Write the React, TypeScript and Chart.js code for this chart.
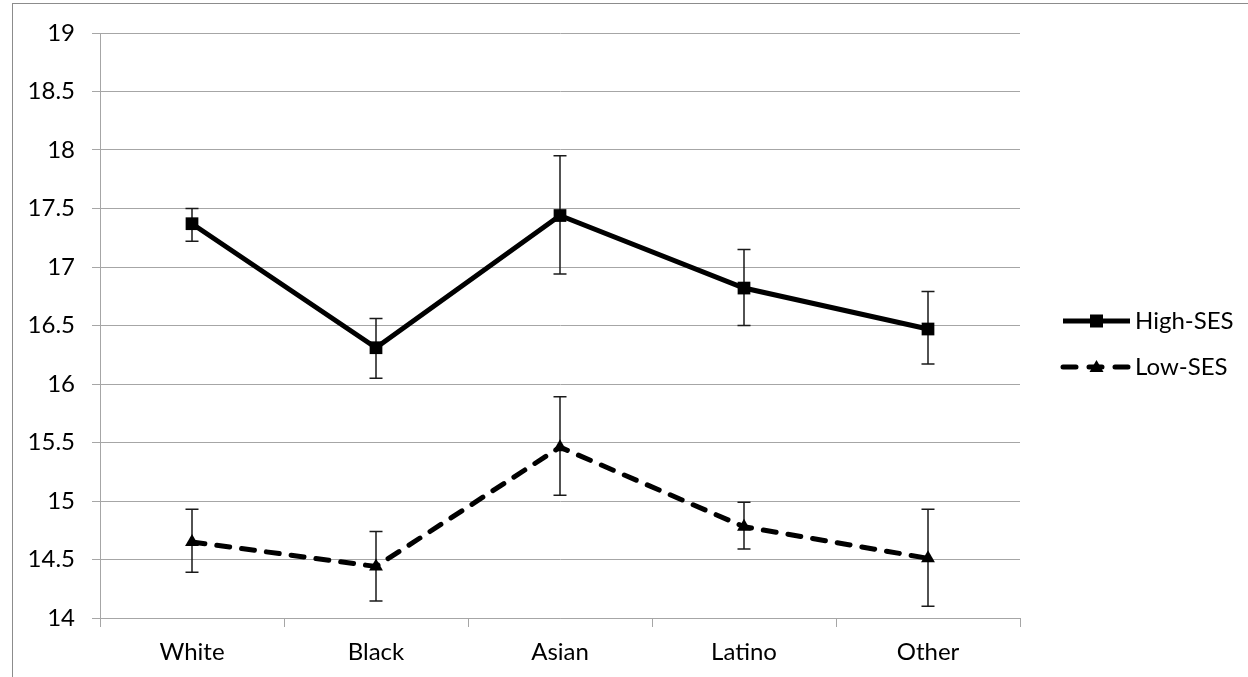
import React, { useEffect, useRef } from "react";
import { Chart, registerables } from "chart.js";

Chart.register(...registerables);

const categories = ["White", "Black", "Asian", "Latino", "Other"];
const highMean = [17.37, 16.31, 17.44, 16.82, 16.47];
const highUpper = [17.5, 16.56, 17.95, 17.15, 16.79];
const highLower = [17.22, 16.05, 16.94, 16.5, 16.17];
const lowMean = [14.65, 14.44, 15.46, 14.78, 14.51];
const lowUpper = [14.93, 14.74, 15.89, 14.99, 14.93];
const lowLower = [14.39, 14.145, 15.05, 14.59, 14.1];
const seriesNames = ["High-SES", "Low-SES"];

const FONT = "Lato, 'Open Sans', sans-serif";
const FONT_SIZE = 24;
const GRID = "#a6a6a6";

const errorBars = {
  id: "errorBars",
  beforeDatasetsDraw(chart: any) {
    const ctx = chart.ctx;
    const y = chart.scales.y;
    const sets = [
      [highUpper, highLower],
      [lowUpper, lowLower],
    ];
    ctx.save();
    ctx.strokeStyle = "#1a1a1a";
    ctx.lineWidth = 1.5;
    sets.forEach((s, di) => {
      const meta = chart.getDatasetMeta(di);
      meta.data.forEach((pt: any, i: number) => {
        const x = pt.x;
        const yt = y.getPixelForValue(s[0][i]);
        const yb = y.getPixelForValue(s[1][i]);
        ctx.beginPath();
        ctx.moveTo(x, yt);
        ctx.lineTo(x, yb);
        ctx.moveTo(x - 6.5, yt);
        ctx.lineTo(x + 6.5, yt);
        ctx.moveTo(x - 6.5, yb);
        ctx.lineTo(x + 6.5, yb);
        ctx.stroke();
      });
    });
    ctx.restore();
  },
};

const legendPlugin = {
  id: "customLegend",
  afterDraw(chart: any) {
    const ctx = chart.ctx;
    const x0 = 1063;
    const x1 = 1130;
    const rows = [321, 367];
    ctx.save();
    rows.forEach((yy, i) => {
      const ds = chart.data.datasets[i];
      ctx.strokeStyle = "#000";
      ctx.lineWidth = 5;
      ctx.lineCap = i === 0 ? "butt" : "round";
      ctx.setLineDash(i === 0 ? [] : [13, 13]);
      ctx.beginPath();
      ctx.moveTo(x0, yy);
      ctx.lineTo(x1, yy);
      ctx.stroke();
      ctx.setLineDash([]);
      ctx.fillStyle = "#000";
      const cx = (x0 + x1) / 2;
      if (i === 0) {
        ctx.fillRect(cx - 6.5, yy - 6.5, 13, 13);
      } else {
        ctx.beginPath();
        ctx.moveTo(cx - 7, yy + 5);
        ctx.lineTo(cx + 7, yy + 5);
        ctx.lineTo(cx, yy - 7);
        ctx.closePath();
        ctx.fill();
      }
      ctx.font = `${FONT_SIZE}px ${FONT}`;
      ctx.textBaseline = "middle";
      ctx.textAlign = "left";
      ctx.fillStyle = "#000";
      ctx.fillText(ds.label, 1135, yy);
    });
    ctx.restore();
  },
};

export default function App() {
  const ref = useRef<HTMLCanvasElement | null>(null);
  useEffect(() => {
    if (!ref.current) return;
    const chart = new Chart(ref.current, {
      type: "line",
      data: {
        labels: categories,
        datasets: [
          {
            label: seriesNames[0],
            data: highMean,
            borderColor: "#000",
            backgroundColor: "#000",
            borderWidth: 5,
            pointStyle: "rect",
            pointRadius: 9,
            pointBackgroundColor: "#000",
            pointBorderWidth: 0,
            tension: 0,
          },
          {
            label: seriesNames[1],
            data: lowMean,
            borderColor: "#000",
            backgroundColor: "#000",
            borderWidth: 5,
            borderDash: [13, 12],
            borderCapStyle: "round",
            pointStyle: "triangle",
            pointRadius: 8,
            pointBackgroundColor: "#000",
            pointBorderWidth: 0,
            tension: 0,
          },
        ],
      },
      options: {
        responsive: false,
        animation: false,
        layout: { padding: { top: 33, right: 228, left: 0, bottom: 0 } },
        plugins: {
          legend: { display: false },
          tooltip: { enabled: false },
        },
        scales: {
          x: {
            type: "category",
            offset: true,
            grid: {
              offset: true,
              drawOnChartArea: false,
              drawTicks: true,
              tickLength: 9,
              color: GRID,
            },
            border: { display: true, color: GRID, width: 1 },
            ticks: {
              color: "#000",
              font: { family: FONT, size: FONT_SIZE },
              padding: 11,
              maxRotation: 0,
            },
            afterFit: (s: any) => {
              s.height = 59;
            },
          },
          y: {
            min: 14,
            max: 19,
            ticks: {
              stepSize: 0.5,
              color: "#000",
              font: { family: FONT, size: FONT_SIZE },
              padding: 17,
              callback: (v: any) => String(Number(v)),
            },
            grid: { color: GRID, tickLength: 8, lineWidth: 1 },
            border: { display: true, color: GRID, width: 1 },
            afterFit: (s: any) => {
              s.width = 100;
            },
          },
        },
      },
      plugins: [errorBars, legendPlugin],
    });
    return () => chart.destroy();
  }, []);
  return (
    <div
      style={{
        position: "absolute",
        left: 0,
        top: 0,
        width: 1248,
        height: 677,
        background: "#fff",
        overflow: "hidden",
      }}
    >
      <div
        style={{
          position: "absolute",
          left: 12,
          top: 3,
          right: 0,
          bottom: 0,
          borderLeft: "1.5px solid #8c8c8c",
          borderTop: "1.5px solid #8c8c8c",
        }}
      />
      <canvas
        ref={ref}
        width={1248}
        height={677}
        style={{ position: "absolute", left: 0, top: 0, display: "block" }}
      />
    </div>
  );
}
